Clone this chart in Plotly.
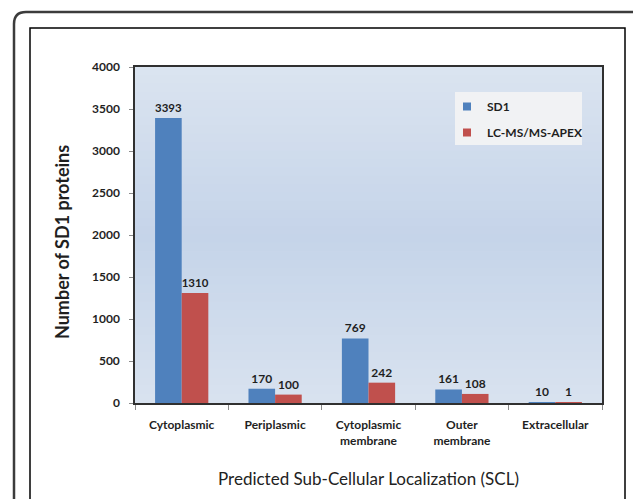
import plotly.graph_objects as go

# ---- data ----
categories = ["Cytoplasmic", "Periplasmic", "Cytoplasmic<br>membrane",
              "Outer<br>membrane", "Extracellular"]
sd1_values = [3393, 170, 769, 161, 10]
apex_values = [1310, 100, 242, 108, 1]
y_tick_values = [0, 500, 1000, 1500, 2000, 2500, 3000, 3500, 4000]
series_names = ["SD1", "LC-MS/MS-APEX"]
series_colors = ["#4f81bd", "#c0504d"]

# ---- layout geometry (pixels) ----
W, H = 633, 499
L, R, T, B = 135, 602, 67, 403


def fx(px):
    return (px - L) / (R - L)


def fy(py):
    return (B - py) / (B - T)


FONT = "Lato, 'Open Sans', sans-serif"
TXT = "#1f1f1f"

fig = go.Figure()
for name, vals, c in zip(series_names, [sd1_values, apex_values], series_colors):
    fig.add_trace(go.Bar(
        name=name, x=categories, y=vals,
        marker=dict(color=c, line=dict(width=0)),
        text=vals, textposition="outside", cliponaxis=False,
        textfont=dict(family=FONT, size=12, color=TXT, weight="bold"),
        showlegend=False,
    ))
# legend entries with small square swatches
for i, (name, c) in enumerate(zip(series_names, series_colors)):
    fig.add_trace(go.Scatter(
        name=name, x=[None], y=[None], mode="markers",
        marker=dict(symbol="square", size=8, color=c),
        legendgroup="g%d" % i, showlegend=True,
    ))

shapes = []
# plot-area vertical gradient background
stops = [(0.0, (0xdb, 0xe4, 0xf0)), (0.5, (0xc5, 0xd4, 0xe9)), (1.0, (0xd8, 0xe2, 0xef))]
N = 40


def col(t):
    for (t0, c0), (t1, c1) in zip(stops[:-1], stops[1:]):
        if t0 <= t <= t1:
            u = (t - t0) / (t1 - t0)
            return "rgb(%d,%d,%d)" % tuple(round(a + (b - a) * u) for a, b in zip(c0, c1))
    return "rgb(%d,%d,%d)" % stops[-1][1]


for i in range(N):
    y1 = 1 - i / N
    y0 = 1 - (i + 1) / N
    shapes.append(dict(type="rect", xref="paper", yref="paper", x0=0, x1=1,
                       y0=y0, y1=y1 + 0.002, layer="below",
                       fillcolor=col((i + 0.5) / N), line=dict(width=0)))

# legend background box
shapes.append(dict(type="rect", xref="paper", yref="paper",
                   x0=fx(455), x1=fx(582), y0=fy(145), y1=fy(92),
                   fillcolor="#f1f2f4", line=dict(width=0), layer="below"))

# outer rounded frame
r = 12
x0, y0p, x1, y1p = 14, 12, 660, 530
path = ("M {a},{b} L {c},{b} L {c},{d} L {e},{d} L {e},{f} Q {e},{g} {h},{g} Z").format(
    a=fx(x0 + r), b=fy(y0p), c=fx(x1), d=fy(y1p), e=fx(x0), f=fy(y0p + r), g=fy(y0p), h=fx(x0 + r))
shapes.append(dict(type="path", xref="paper", yref="paper", path=path,
                   line=dict(color="#3c3c3c", width=2.5), layer="below"))
# inner frame
shapes.append(dict(type="rect", xref="paper", yref="paper",
                   x0=fx(30), x1=fx(625), y0=fy(28), y1=fy(530),
                   line=dict(color="#000000", width=1.5), layer="below"))

fig.update_layout(
    width=W, height=H,
    margin=dict(l=L, r=W - R, t=T, b=H - B, autoexpand=False),
    paper_bgcolor="white", plot_bgcolor="#d4dfee",
    font=dict(family=FONT, color=TXT),
    barmode="group", bargap=0.43, bargroupgap=0,
    shapes=shapes,
    showlegend=True,
    legend=dict(x=fx(447), y=fy(92), xanchor="left", yanchor="top",
                bgcolor="rgba(0,0,0,0)", borderwidth=0,
                font=dict(family=FONT, size=12, color=TXT, weight="bold"),
                tracegroupgap=7, traceorder="grouped", itemwidth=30,
                ),
    annotations=[dict(
        text="Number of SD1 proteins", xref="paper", yref="paper",
        x=fx(62), y=fy(242), textangle=-90, showarrow=False,
        xanchor="center", yanchor="middle",
        font=dict(family=FONT, size=18, color=TXT, weight="bold"),
    )],
    xaxis=dict(
        type="category", showline=True, linecolor="#303030", linewidth=1.5,
        mirror=True, ticks="outside", tickson="boundaries", ticklen=5,
        tickcolor="#8a8a8a", tickwidth=1,
        tickfont=dict(family=FONT, size=12, color=TXT, weight="bold"),
        ticklabelstandoff=10, showgrid=False, automargin=False,
        title=dict(text="Predicted Sub-Cellular Localization (SCL)",
                   font=dict(family=FONT, size=17, color="#222222"), standoff=26),
    ),
    yaxis=dict(
        range=[0, 4000], tickvals=y_tick_values, showline=True,
        linecolor="#303030", linewidth=1.5, mirror=True,
        ticks="outside", ticklen=4, tickcolor="#8a8a8a", tickwidth=1,
        tickfont=dict(family=FONT, size=12, color=TXT, weight="bold"),
        ticklabelstandoff=7, showgrid=False, zeroline=False, automargin=False,
    ),
)

fig.write_html("out.html", config={"displayModeBar": False},
               post_script="document.body.style.margin='0';")
